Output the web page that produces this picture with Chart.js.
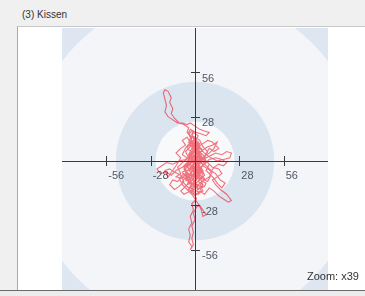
<!DOCTYPE html>
<html>
<head>
<meta charset="utf-8">
<script src="https://cdn.jsdelivr.net/npm/chart.js@4/dist/chart.umd.min.js"></script>
<style>
  html, body { margin: 0; padding: 0; }
  body { width: 365px; height: 296px; background: #f0f0f0; position: relative; overflow: hidden; font-family: "Liberation Sans", Arial, sans-serif; }
  #titel { position: absolute; left: 22px; top: 9px; font-size: 10px; color: #333; }
  #rahmen { position: absolute; left: 17px; top: 26px; width: 348px; height: 264px; background: #fff; border-left: 1px solid #a8a8a8; border-top: 1px solid #c8c8c8; }
  #diagramm { position: absolute; left: 0; top: 0; }
  #unten { position: absolute; left: 0; top: 290px; width: 365px; height: 6px; background: #ececec; border-top: 1px solid #6a6a6a; }
  #zoom { position: absolute; left: 307px; top: 270px; font-size: 11px; color: #333; }
</style>
</head>
<body>
<div id="titel">(3) Kissen</div>
<div id="rahmen"></div>
<canvas id="diagramm" width="365" height="296"></canvas>
<div id="unten"></div>
<div id="zoom">Zoom: x39</div>
<script>
// Achsen
const achsenMin = -84;
const achsenMax = 84;
const tickWerte = [-56, -28, 28, 56];

// Zonen (Radien) und Farben von außen nach innen
const zonenRadien = [105, 50, 25];
const zonenFarben = ['#f3f5f9', '#dbe5f0', '#f8f9fb'];
const eckFarbe = '#dde6f1';

// Schwerpunktspur (x, y)
const spur = [
  [0,0],[2,3],[-1,6],[3,9],[1,12],[-2,8],[-4,4],[-1,1],[3,-2],[5,2],[2,5],[-3,2],[-6,-3],[-2,-6],[1,-3],
  [4,-7],[2,-11],[-3,-8],[-5,-12],[-1,-15],[3,-12],[6,-9],[4,-4],[7,0],[5,4],[1,7],[-2,11],[0,15],[3,13],
  [5,9],[8,6],[6,2],[3,-1],[-1,-4],[-4,-1],[-7,-5],[-5,-9],[-8,-13],[-4,-17],[0,-14],[2,-18],[5,-15],
  [3,-10],[0,-7],[-2,-3],[1,1],[4,4],[2,8],[-1,10],[-3,14],[-1,18],[2,16],[0,12],[-3,9],[-6,6],[-4,2],
  [-8,-1],[-11,-4],[-9,-8],[-12,-10],[-8,-11],[-5,-7],[-2,-10],[1,-8],[4,-11],[8,-13],[10,-9],[7,-6],
  [9,-2],[6,1],[3,3],[0,4],[-2,1],[0,-2],[3,-5],[1,-9],[-3,-13],[-6,-16],[-9,-19],[-7,-21],[-3,-19],
  [0,-22],[3,-19],[6,-21],[9,-17],[12,-19],[15,-22],[18,-24],[21,-26],[23,-25],[20,-21],[16,-18],
  [13,-15],[11,-12],[14,-10],[17,-8],[15,-5],[11,-4],[8,-1],[5,1],
  [9,3],[13,5],[17,4],[20,6],[23,5],[22,2],[18,1],[14,0],[10,2],[6,5],[3,8],
  [-2,4],[-6,1],[-10,0],[-14,-2],[-18,-1],[-21,-3],[-24,-5],[-22,-8],[-18,-7],[-15,-9],[-12,-6],[-8,-4],
  [-5,-1],[-3,3],
  [-1,7],[-3,11],[-2,15],[-5,18],[-4,21],[-7,23],[-10,24],[-13,27],[-15,30],[-14,33],[-16,37],[-15,40],
  [-17,44],[-19,45],[-20,43],[-19,39],[-18,35],[-19,31],[-17,28],[-14,26],[-11,24],[-8,24],[-5,23],
  [-3,24],[0,22],[3,20],[6,19],[9,18],[7,16],[4,17],[1,18],[-2,19],[-4,17],[-2,13],[0,10],
  [2,6],[-1,3],[-4,-2],[-2,-5],[2,-4],[5,-6],[3,-9],[0,-12],[-3,-16],[-1,-20],[1,-24],[-2,-27],[-1,-31],
  [-3,-35],[-2,-39],[-4,-43],[-3,-47],[-4,-51],[-2,-54],[-3,-56],[-1,-53],[-2,-49],[-1,-45],[-2,-41],
  [0,-37],[-1,-33],[1,-29],[3,-28],[5,-31],[7,-34],[5,-35],[4,-31],[2,-27],[0,-24],[-2,-21],
  [-5,-18],[-8,-15],[-10,-11],[-7,-8],[-4,-10],[-1,-8],[2,-5],[5,-3],[8,-5],[11,-7],[9,-10],[6,-12],
  [3,-14],[1,-17],[-2,-14],[-4,-9],[-6,-5],[-3,-2],[0,1],[2,4],[5,7],[8,9],[11,10],[14,12],[12,8],[9,5],
  [6,3],[4,0],[1,-2],[-1,-5],[2,-8],[0,-11],[-3,-7],[-5,-3],[-2,0],[1,2],[3,5],[0,8],[-2,5],[0,3],
  [1,2],[0,4],[2,5],[1,7],[-1,6],[-2,8],[0,9],[-1,11],[1,10],[2,12],[0,13],[-2,12],[-3,10],[-1,9],[0,7],
  [2,8],[3,6],[1,4],[2,2],[4,1],[3,-1],[5,-2],[4,-4],[2,-3],[1,-5],[3,-6],[2,-8],[0,-7],[-1,-9],[1,-10],
  [3,-11],[2,-13],[4,-14],[3,-16],[1,-15],[0,-13],[-2,-12],[-1,-10],[-3,-9],[-2,-7],[-4,-6],[-3,-4],
  [-1,-3],[0,-1],[-2,0],[-1,2],[1,3],[3,2],[4,4],[3,6],[5,6],[4,8],[2,9],[3,11],[1,12],[-1,13],[0,15],
  [-2,16],[-3,14],[-4,12],[-3,10],[-5,9],[-4,7],[-2,6],[-3,4],[-1,3],[0,1],[2,0],[1,-2],[3,-3],[2,-5],
  [4,-6],[5,-8],[4,-10],[6,-11],[5,-13],[7,-14],[6,-16],[4,-17],[5,-19],[3,-20],[1,-19],[2,-17],[0,-16],
  [-1,-18],[-3,-17],[-2,-15],[-4,-14],[-3,-12],[-5,-11],[-4,-9],[-6,-8],[-5,-6],[-3,-5],[-2,-3],[0,-4],
  [1,-6],[-1,-7],[0,-9],[2,-10],[1,-12],[-1,-13],[-2,-11],[-4,-10],[-3,-8],[-1,-6],[1,-4],[3,-4],[2,-2],
  [4,-1],[6,0],[5,2],[3,1],[1,0],[-1,-1],[-3,-1],[-2,1],[-4,3],[-3,5],[-1,5],[1,6],[0,8],[2,10],[1,11],
  [-1,10],[-2,9],[-1,7],[1,5],[0,3],[-2,2],[-1,0],[1,-1],[0,-3],[2,-6],[3,-8],[1,-9],[-1,-11],[0,-14],
  [2,-15],[1,-17],[-1,-16],[-2,-18],[0,-20],[2,-21],[4,-19],[3,-17],[5,-16],[4,-13],[6,-12],[5,-10],
  [3,-9],[4,-7],[2,-7],[0,-6],[-2,-5],[-1,-2],[1,-1],[2,1],[0,2],[-2,3],[-3,1],[-5,0],[-4,-2],[-6,-2],
  [-7,-4],[-6,-6],[-8,-7],[-7,-9],[-5,-10],[-6,-12],[-4,-13],[-5,-15],[-3,-14],[-2,-16],[-4,-18],
  [-2,-19],[0,-18],[1,-16],[-1,-14],[0,-12],[2,-11],[1,-8],[3,-7],[2,-4],[0,-2],[-1,0],[1,1],[3,0],[4,2],
  [2,3],[0,5],[1,8],[-1,9],[0,11],[2,11],[1,13],[-1,14],[-2,17],[-1,19],[-3,20],[-4,18],[-3,16],[-1,15],
  [0,13],
  [3,2],[7,-3],[10,-6],[13,-8],[16,-12],[19,-14],[17,-17],[14,-14],[12,-11],[9,-8],[12,-4],[15,-2],
  [18,-3],[20,-1],[17,1],[13,2],[9,1],[6,-2],[3,-5],[0,-8],[-4,-12],[-8,-10],[-11,-13],[-14,-12],
  [-16,-15],[-13,-18],[-10,-16],[-7,-13],[-9,-9],[-13,-7],[-16,-5],[-19,-6],[-17,-10],[-12,-3],[-9,2],
  [-12,5],[-9,8],[-6,10],[-8,13],[-5,15],[-3,12],[-6,8],[-8,4],[-5,2],[-2,-1],[2,-2],[6,3],[9,8],[12,6],
  [15,8],[11,12],[8,13],[5,11],[2,9],[0,5]
];

// Hintergrund mit Zonen zeichnen
const zonenPlugin = {
  id: 'zonen',
  beforeDatasetsDraw(chart) {
    const { ctx, chartArea, scales } = chart;
    const cx = scales.x.getPixelForValue(0);
    const cy = scales.y.getPixelForValue(0);
    const px = scales.x.getPixelForValue(1) - cx;
    ctx.save();
    ctx.beginPath();
    ctx.rect(chartArea.left, chartArea.top, chartArea.width, chartArea.height);
    ctx.clip();
    ctx.fillStyle = eckFarbe;
    ctx.fillRect(chartArea.left, chartArea.top, chartArea.width, chartArea.height);
    zonenRadien.forEach((r, i) => {
      ctx.beginPath();
      ctx.arc(cx, cy, r * px, 0, Math.PI * 2);
      ctx.fillStyle = zonenFarben[i];
      ctx.fill();
    });

    // Achsenkreuz
    ctx.strokeStyle = '#3a3a3a';
    ctx.lineWidth = 1;
    ctx.beginPath();
    ctx.moveTo(chartArea.left, Math.round(cy) + 0.5);
    ctx.lineTo(chartArea.right, Math.round(cy) + 0.5);
    ctx.moveTo(Math.round(cx) + 0.5, chartArea.top);
    ctx.lineTo(Math.round(cx) + 0.5, chartArea.bottom);
    tickWerte.forEach(v => {
      const tx = Math.round(scales.x.getPixelForValue(v)) + 0.5;
      ctx.moveTo(tx, cy - 5);
      ctx.lineTo(tx, cy + 5);
      const ty = Math.round(scales.y.getPixelForValue(v)) + 0.5;
      ctx.moveTo(cx - 4, ty);
      ctx.lineTo(cx + 5, ty);
    });
    ctx.stroke();

    // Beschriftung
    ctx.fillStyle = '#4f5866';
    ctx.font = '11px "Liberation Sans", Arial, sans-serif';
    ctx.textAlign = 'left';
    ctx.textBaseline = 'top';
    tickWerte.forEach(v => {
      ctx.fillText(String(v), scales.x.getPixelForValue(v) + 2, cy + 9);
      ctx.fillText(String(v), cx + 7, scales.y.getPixelForValue(v) + 1);
    });
    ctx.restore();
  }
};

new Chart(document.getElementById('diagramm'), {
  type: 'scatter',
  data: {
    datasets: [{
      data: spur.map(p => ({ x: p[0], y: p[1] })),
      showLine: true,
      borderColor: 'rgba(235, 0, 20, 0.55)',
      borderWidth: 1.1,
      pointRadius: 0,
      tension: 0
    }]
  },
  options: {
    responsive: false,
    animation: false,
    layout: { padding: { left: 62, right: 37, top: 28, bottom: 2 } },
    plugins: { legend: { display: false }, tooltip: { enabled: false } },
    scales: {
      x: { type: 'linear', min: achsenMin, max: achsenMax, display: false },
      y: { type: 'linear', min: achsenMin, max: achsenMax, display: false }
    }
  },
  plugins: [zonenPlugin]
});
</script>
</body>
</html>
